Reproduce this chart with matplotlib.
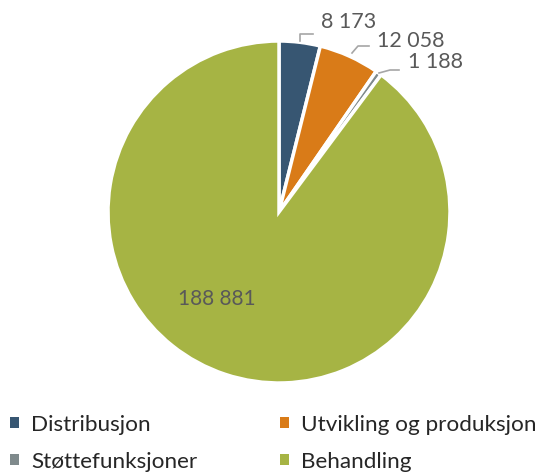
import matplotlib
matplotlib.use("Agg")
import matplotlib.pyplot as plt
from matplotlib.patches import Patch
from matplotlib.legend import Legend

categories = ["Distribusjon", "Utvikling og produksjon", "Støttefunksjoner", "Behandling"]
values = [8173, 12058, 1188, 188881]
labels = ["8 173", "12 058", "1 188", "188 881"]
colors = ["#375672", "#D97B18", "#7F8A8C", "#A6B444"]

plt.rcParams['font.family'] = ['Lato', 'DejaVu Sans']

W, H = 541, 472
fig = plt.figure(figsize=(W / 100, H / 100), dpi=100)
ax = fig.add_axes([0, 0, 1, 1])
ax.set_xlim(0, W)
ax.set_ylim(0, H)
ax.set_aspect('equal')
ax.axis('off')

cx, cy, r = 279, H - 212, 171
wedges, _ = ax.pie(values, colors=colors, startangle=90, counterclock=False,
                   center=(cx, cy), radius=r,
                   wedgeprops=dict(edgecolor='white', linewidth=2.5))
ax.set_xlim(0, W)
ax.set_ylim(0, H)

txt_color = "#595959"
line_color = "#A6A6A6"
fs = 15.5

# outside labels with leader lines (pixel coordinates from top)
outside = [
    (0, [(300, 41), (300, 34), (313, 34)], (349, 22)),
    (1, [(352, 53), (358, 46), (369, 46)], (411, 41)),
    (2, [(379, 73), (390, 70), (399, 70)], (436, 62)),
]
for idx, pts, (tx, ty) in outside:
    xs = [p[0] for p in pts]
    ys = [H - p[1] for p in pts]
    ax.plot(xs, ys, color=line_color, lw=1.2)
    ax.text(tx, H - ty, labels[idx], fontsize=fs, color=txt_color,
            ha='center', va='center')

ax.text(217, H - 299, labels[3], fontsize=15, color=txt_color,
        ha='center', va='center')

handles = [Patch(facecolor=c, edgecolor='none') for c in colors]
leg_kw = dict(loc='upper left', frameon=False, fontsize=16.2,
              handlelength=0.38, handleheight=0.38, handletextpad=0.55,
              labelspacing=0.74, borderaxespad=0, borderpad=0,
              labelcolor="#262626")
col_x = [10, 280]
col_items = [[0, 2], [1, 3]]
for cxp, items in zip(col_x, col_items):
    leg = Legend(ax, [handles[i] for i in items], [categories[i] for i in items],
                 bbox_to_anchor=(cxp / W, 1 - 415 / H), bbox_transform=ax.transAxes,
                 **leg_kw)
    ax.add_artist(leg)

fig.savefig("out.png", dpi=100)
